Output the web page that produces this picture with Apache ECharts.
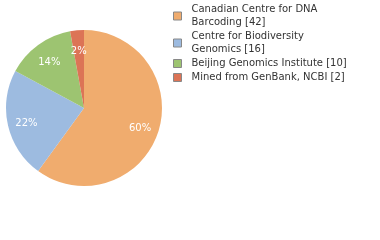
<!DOCTYPE html>
<html><head><meta charset="utf-8">
<script src="https://cdn.jsdelivr.net/npm/echarts@6/dist/echarts.min.js"></script>
<style>html,body{margin:0;padding:0;background:#fff}#c{width:380px;height:240px}</style>
</head><body><div id="c"></div>
<script>
var categories = ["Canadian Centre for DNA Barcoding", "Centre for Biodiversity Genomics", "Beijing Genomics Institute", "Mined from GenBank, NCBI"];
var legendLabels = ["Canadian Centre for DNA\nBarcoding [42]", "Centre for Biodiversity\nGenomics [16]", "Beijing Genomics Institute [10]", "Mined from GenBank, NCBI [2]"];
var counts = [42, 16, 10, 2];
var colors = ["#F0AC6E", "#9DBBE0", "#9DC471", "#DC7456"];

var total = counts.reduce(function(a,b){return a+b;},0);
var data = categories.map(function(c,i){return {name:c, value:counts[i], itemStyle:{color:colors[i]}};});
var labelMap = {}; categories.forEach(function(c,i){labelMap[c]=legendLabels[i];});
var font = "DejaVu Sans";
var chart = echarts.init(document.getElementById('c'), null, {renderer:'canvas'});
chart.setOption({
  animation:false,
  legend:{
    orient:'vertical', left:168, top:-2, itemWidth:8, itemHeight:8, itemGap:1,
    icon:'rect', selectedMode:false,
    itemStyle:{borderColor:'#888', borderWidth:1},
    formatter:function(n){return labelMap[n];},
    textStyle:{fontFamily:font, fontSize:10, lineHeight:13, color:'#333', padding:[0,0,0,5]},
    data:categories
  },
  series:[
    {type:'pie', center:[84,108], radius:78, startAngle:90, clockwise:true,
     label:{show:false}, labelLine:{show:false}, data:data, silent:true,
     itemStyle:{borderWidth:0}},
    {type:'pie', center:[84,110], radius:[34,78], startAngle:90, clockwise:true, silent:true,
     legendHoverLink:false,
     data:categories.map(function(c,i){return {name:c+' ', value:counts[i], itemStyle:{color:'rgba(0,0,0,0)'}};}),
     label:{show:true, position:'inside', color:'#fff', fontFamily:font, fontSize:10,
       formatter:function(p){return Math.floor(p.value/total*100)+'%';}},
     labelLine:{show:false}}
  ]
});
</script></body></html>
